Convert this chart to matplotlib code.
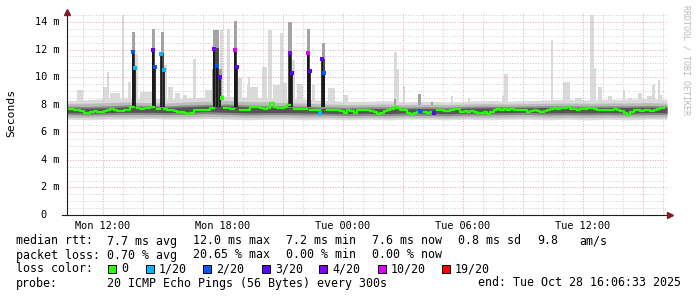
import numpy as np
import matplotlib.pyplot as plt
from matplotlib.patches import Rectangle

plt.rcParams['font.family'] = 'DejaVu Sans Mono'

# time axis: hours since Mon 00:00
t_start = 10.2
t_end = 40.25

# median rtt (ms), one value per 10 minutes, nan where the sample had loss
median_ms = [
    7.69, 7.68, 7.64, 7.60, 7.55, 7.42, 7.38, 7.45, 7.52, 7.50, 7.47, 7.55,
    7.62, 7.67, 7.60, 7.55, 7.58, 7.62, 7.60, 7.85, np.nan, 7.75, 7.72, 7.78,
    7.74, 7.80, np.nan, 7.68, np.nan, 7.70, 7.62, 7.60, 7.55, 7.48, 7.45, 7.42,
    7.33, 7.38, 7.60, 7.62, 7.60, 7.65, 7.62, 7.75, np.nan, np.nan, np.nan, 7.78,
    7.74, 7.72, np.nan, np.nan, 7.62, 7.60, 7.65, 7.85, 7.82, 7.85, 7.74, 7.72,
    7.78, 8.15, 7.80, 7.78, 7.76, 7.80, 8.00, np.nan, 7.70, 7.66, 7.68, 7.66,
    np.nan, 7.62, 7.60, 7.62, np.nan, np.nan, 7.60, 7.62, 7.60, 7.65, 7.55, 7.42,
    7.60, 7.58, 7.42, 7.60, 7.62, 7.65, 7.62, 7.58, 7.45, 7.35, 7.40, 7.55,
    7.65, 7.70, 7.80, 7.75, 7.60, 7.62, 7.40, 7.33, 7.38, 7.45, np.nan, 7.45,
    7.42, 7.50, np.nan, 7.62, 7.60, 7.55, 7.58, 7.62, 7.70, 7.68, 7.50, 7.55,
    7.48, 7.55, 7.50, 7.42, 7.40, 7.45, 7.30, 7.45, 7.65, 7.68, 7.62, 7.70,
    7.65, 7.68, 7.62, 7.60, 7.65, 7.62, 7.50, 7.58, 7.62, 7.55, 7.48, 7.52,
    7.60, 7.72, 7.75, 7.70, 7.78, 7.74, 7.80, 7.68, 7.70, 7.62, 7.66, 7.72,
    7.78, 7.74, 7.70, 7.62, 7.60, 7.64, 7.60, 7.62, 7.66, 7.62, 7.55, 7.40,
    7.25, 7.50, 7.60, 7.62, 7.58, 7.60, 7.62, 7.58, 7.62, 7.72, 7.76,
]

# hourly smoke envelope (ms)
light_lo = [6.95, 6.90, 6.95, 6.95, 7.00, 6.95, 6.95, 7.00, 6.95, 6.90, 6.95,
            6.95, 6.90, 6.95, 6.90, 6.95, 6.90, 6.95, 6.95, 6.90, 6.95, 6.90,
            6.95, 6.95, 6.90, 6.95, 6.90, 6.95, 6.90, 6.95, 6.95]
light_hi = [8.30, 8.35, 8.45, 8.50, 8.45, 8.40, 8.50, 8.55, 8.60, 8.55, 8.50,
            8.45, 8.40, 8.30, 8.25, 8.25, 8.30, 8.20, 8.25, 8.20, 8.25, 8.30,
            8.25, 8.30, 8.35, 8.40, 8.35, 8.40, 8.40, 8.45, 8.40]
mid_lo = [7.10, 7.08, 7.12, 7.10, 7.12, 7.10, 7.10, 7.15, 7.12, 7.08, 7.10,
          7.10, 7.08, 7.10, 7.05, 7.08, 7.05, 7.10, 7.08, 7.05, 7.10, 7.08,
          7.10, 7.12, 7.08, 7.10, 7.08, 7.10, 7.08, 7.10, 7.10]
mid_hi = [8.08, 8.10, 8.15, 8.20, 8.15, 8.12, 8.20, 8.25, 8.30, 8.22, 8.20,
          8.15, 8.10, 8.05, 8.00, 8.02, 8.05, 8.00, 8.02, 8.00, 8.05, 8.08,
          8.05, 8.08, 8.10, 8.12, 8.10, 8.12, 8.12, 8.15, 8.12]
dark_lo = [7.28, 7.25, 7.28, 7.30, 7.30, 7.28, 7.30, 7.35, 7.30, 7.25, 7.28,
           7.28, 7.25, 7.25, 7.20, 7.22, 7.20, 7.25, 7.22, 7.20, 7.25, 7.25,
           7.28, 7.30, 7.25, 7.28, 7.25, 7.28, 7.25, 7.28, 7.28]
dark_hi = [7.90, 7.88, 7.92, 7.98, 7.95, 7.92, 7.98, 8.02, 8.05, 7.98, 7.95,
           7.92, 7.90, 7.85, 7.82, 7.85, 7.85, 7.82, 7.85, 7.82, 7.88, 7.90,
           7.88, 7.90, 7.92, 7.92, 7.90, 7.92, 7.92, 7.95, 7.92]
core_lo = [7.42, 7.38, 7.42, 7.45, 7.45, 7.42, 7.45, 7.50, 7.45, 7.40, 7.42,
           7.42, 7.40, 7.38, 7.35, 7.38, 7.35, 7.40, 7.38, 7.35, 7.40, 7.40,
           7.42, 7.45, 7.40, 7.42, 7.40, 7.42, 7.40, 7.42, 7.42]
core_hi = [7.78, 7.75, 7.78, 7.85, 7.82, 7.80, 7.85, 7.90, 7.92, 7.85, 7.82,
           7.80, 7.78, 7.72, 7.70, 7.72, 7.72, 7.70, 7.72, 7.70, 7.75, 7.78,
           7.75, 7.78, 7.80, 7.80, 7.78, 7.80, 7.80, 7.82, 7.80]

# single-sample outliers in the smoke (light grey)
gust_start = [10.7, 11.25, 12.0, 12.2, 12.35, 12.95, 13.25, 13.6, 13.85, 15.05,
              15.25, 15.6, 16.0, 16.5, 16.75, 17.1, 17.85, 18.2, 18.75, 19.2,
              19.25, 19.35, 19.95, 20.25, 20.5, 20.85, 21.0, 21.45, 21.7, 22.45,
              23.25, 24.0, 26.55, 26.7, 27.0, 29.4, 30.25, 30.5, 31.5, 31.95,
              32.05, 33.25, 34.4, 35.0, 35.6, 36.35, 36.55, 36.75, 37.25, 38.0,
              38.25, 38.75, 39.2, 39.45, 39.75, 39.85]
gust_end = [11.0, 11.75, 12.2, 12.3, 12.85, 13.05, 13.4, 13.75, 14.45, 15.2,
            15.5, 15.85, 16.2, 16.65, 17.1, 17.45, 18.0, 18.35, 18.95, 19.25,
            19.35, 19.75, 20.2, 20.45, 20.85, 21.0, 21.2, 21.6, 22.0, 22.6,
            23.6, 24.25, 26.7, 26.8, 27.1, 29.5, 30.35, 30.7, 31.75, 32.05,
            32.25, 33.6, 34.5, 35.35, 35.95, 36.55, 36.65, 36.95, 37.45, 38.1,
            38.45, 38.95, 39.45, 39.6, 39.85, 39.95]
gust_top = [9.05, 8.35, 9.3, 10.4, 8.85, 14.5, 9.65, 11.7, 8.95, 10.9,
            9.3, 8.85, 8.7, 11.35, 8.5, 9.05, 13.45, 13.5, 9.95, 9.4,
            10.0, 9.3, 10.75, 13.4, 9.45, 13.2, 9.6, 11.25, 9.5, 9.45,
            9.2, 8.7, 11.85, 10.6, 9.35, 8.65, 8.5, 8.3, 8.3, 8.6,
            10.2, 8.3, 12.7, 9.65, 8.5, 14.5, 10.65, 9.3, 8.6, 9.05,
            8.5, 8.85, 8.6, 9.4, 9.8, 8.7]

# darker haze
haze_start = [17.45, 26.55, 27.75, 28.4]
haze_end = [17.95, 26.65, 27.9, 28.5]
haze_top = [10.6, 8.4, 8.8, 8.2]

# latency spikes
spike_start = [13.45, 14.47, 14.9, 17.52, 18.55, 21.27, 22.22, 22.97]
spike_end = [13.62, 14.62, 15.05, 17.8, 18.72, 21.45, 22.37, 23.1]
spike_top = [11.95, 12.05, 11.75, 12.1, 12.0, 11.8, 11.85, 11.3]
spike_haze = [13.3, 13.5, 13.3, 13.4, 14.1, 14.0, 13.5, 12.45]

# medians of samples with packet loss
dot_t = [13.5, 13.6, 14.5, 14.6, 14.9, 15.035, 17.565, 17.685, 17.85, 17.935,
         18.6, 18.685, 21.35, 21.435, 22.265, 22.35, 22.965, 23.05, 22.85,
         27.85, 28.53]
dot_ms = [11.85, 10.64, 12.0, 10.76, 11.7, 10.52, 12.04, 10.8, 10.0, 8.46,
          11.97, 10.76, 11.77, 10.32, 11.77, 10.47, 11.3, 10.32, 7.38,
          7.57, 7.42]
dot_loss = ['2/20', '1/20', '3/20', '2/20', '1/20', '1/20', '4/20', '2/20', '3/20', '0',
            '10/20', '3/20', '4/20', '3/20', '10/20', '3/20', '3/20', '2/20', '1/20',
            '2/20', '3/20']

loss_labels = ['0', '1/20', '2/20', '3/20', '4/20', '10/20', '19/20']
loss_colors = ['#26ff00', '#00b8ff', '#0059ff', '#5e00ff', '#7e00ff', '#dd00ff', '#ff0000']
color_of = dict(zip(loss_labels, loss_colors))

tick_hours = [12, 18, 24, 30, 36]
tick_names = ['Mon 12:00', 'Mon 18:00', 'Tue 00:00', 'Tue 06:00', 'Tue 12:00']

W, H = 697, 297
fig = plt.figure(figsize=(W / 100, H / 100), dpi=100)
ax = fig.add_axes([67 / W, 82 / H, 601 / W, 203 / H])
ax.set_xlim(t_start, t_end)
ax.set_ylim(0, 14.725)
for s in ax.spines.values():
    s.set_visible(False)

t_band = t_start + np.arange(len(light_lo))
ax.fill_between(t_band, light_lo, light_hi, color='#dadada', lw=0, zorder=1)
ax.bar(gust_start, np.array(gust_top) - 7.5, width=np.array(gust_end) - np.array(gust_start),
       bottom=7.5, align='edge', color='#dadada', lw=0, zorder=1)
ax.bar(haze_start, np.array(haze_top) - 7.6, width=np.array(haze_end) - np.array(haze_start),
       bottom=7.6, align='edge', color='#a0a0a0', lw=0, zorder=2)
ax.fill_between(t_band, mid_lo, mid_hi, color='#bababa', lw=0, zorder=2)
ax.fill_between(t_band, dark_lo, dark_hi, color='#8a8a8a', lw=0, zorder=2)
ax.fill_between(t_band, core_lo, core_hi, color='#555555', lw=0, zorder=2)

sw = np.array(spike_end) - np.array(spike_start)
ax.bar(spike_start, np.array(spike_haze) - 7.8, width=sw, bottom=7.8, align='edge',
       color='#a4a4a4', lw=0, zorder=3)
ax.bar(spike_start, np.array(spike_top) - 7.8, width=sw, bottom=7.8, align='edge',
       color='#4a4a4a', lw=0, zorder=3)
high = [(t, v) for t, v in zip(dot_t, dot_ms) if v > 9]
ax.vlines([p[0] for p in high], 7.8, [p[1] for p in high], color='#111111', lw=1.2, zorder=3)

# grid (dotted, visible through the light smoke only)
grid_kw = dict(lw=0.72, ls=(0, (1, 1.6)), zorder=1.5)
for h in range(11, 41):
    ax.axvline(h, color='#e8a6a6' if h % 3 == 0 else '#cfcfcf', **grid_kw)
for v in np.arange(0.5, 14.6, 0.5):
    ax.axhline(v, color='#e8a6a6' if v % 2 == 0 else '#cfcfcf', **grid_kw)

# median
t_med = t_start + np.arange(len(median_ms)) / 6
ax.step(np.append(t_med, t_med[-1] + 1 / 6), np.append(median_ms, median_ms[-1]),
        where='post', color=color_of['0'], lw=1.6, zorder=5)
for t, v, l in zip(dot_t, dot_ms, dot_loss):
    ax.plot(t, v, 's', color=color_of[l], ms=2.6, mew=0, zorder=6)

# axes lines and arrows
ax.plot([t_start, t_start], [0, 14.725], color='#1f1f1f', lw=0.8, clip_on=False, zorder=7)
ax.plot([t_start - 0.25, t_end + 0.1], [0, 0], color='#1f1f1f', lw=0.8, clip_on=False, zorder=7)
ax.plot(t_start, 14.725, marker='^', color='#801f1f', ms=4, clip_on=False, zorder=8)
ax.plot(t_end + 0.1, 0, marker='>', color='#801f1f', ms=4, clip_on=False, zorder=8)

ax.set_xticks(tick_hours)
ax.set_xticklabels(tick_names, fontsize=7.4)
ax.tick_params(axis='x', length=0, pad=4)
ax.set_yticks([])
for v in range(0, 15, 2):
    lab = '%d m' % v if v else '0'
    ax.text(-0.013 if v else -0.0335, v, lab, transform=ax.get_yaxis_transform(),
            ha='right', va='center', fontsize=7.4)

fig.text(11 / W, 1 - 113 / H, 'Seconds', rotation=90, ha='center', va='center', fontsize=8.2)
fig.text(686 / W, 1 - 60 / H, 'RRDTOOL / TOBI OETIKER', rotation=270, ha='center',
         va='center', fontsize=6, color='#b8b8b8')

# legend
rows = [
    (241, [(16, 'median rtt:'), (107, '7.7 ms avg'), (193, '12.0 ms max'), (286, '7.2 ms min'),
           (372, '7.6 ms now'), (458, '0.8 ms sd'), (537, '9.8'), (579, 'am/s')]),
    (255, [(16, 'packet loss:'), (107, '0.70 % avg'), (193, '20.65 % max'), (286, '0.00 % min'),
           (372, '0.00 % now')]),
    (269, [(16, 'loss color:')]),
    (283, [(16, 'probe:'), (107, '20 ICMP Echo Pings (56 Bytes) every 300s'),
           (478, 'end: Tue Oct 28 16:06:33 2025')]),
]
for y, items in rows:
    for x, s in items:
        fig.text(x / W, 1 - y / H, s, ha='left', va='center', fontsize=8.4)

box_x = [108, 146, 203, 262, 319, 378, 442]
for bx, lab, col in zip(box_x, loss_labels, loss_colors):
    fig.add_artist(Rectangle((bx / W, 1 - 273 / H), 8 / W, 8 / H, facecolor=col,
                             edgecolor='black', lw=0.7))
    fig.text((bx + 13) / W, 1 - 269 / H, lab, ha='left', va='center', fontsize=8.4)

fig.savefig('out.png', dpi=100)
